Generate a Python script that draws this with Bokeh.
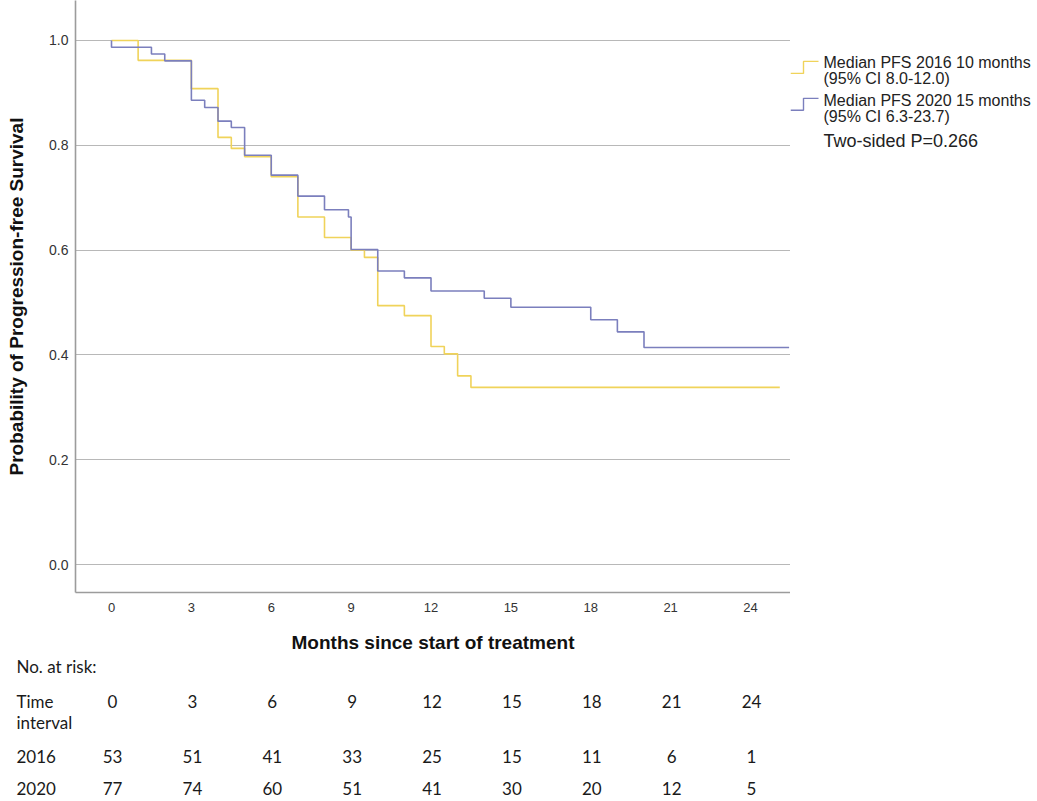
from bokeh.plotting import figure
from bokeh.layouts import row, column
from bokeh.models import Range1d, FixedTicker, ColumnDataSource
from bokeh.core.properties import value
from bokeh.embed import file_html
from bokeh.resources import INLINE

# ---- data ----
t2016 = [0, 1, 3, 4, 4.5, 5, 6, 7, 8, 9, 9.5, 10, 11, 12, 12.5, 13, 13.5, 25.1]
s2016 = [1.0, 0.962, 0.908, 0.815, 0.794, 0.778, 0.740, 0.663, 0.624, 0.600, 0.586,
         0.494, 0.475, 0.416, 0.402, 0.360, 0.338, 0.338]

t2020 = [0, 0, 1.5, 2, 3, 3.5, 4, 4.5, 5, 6, 7, 8, 8.9, 9, 10, 11, 12, 14, 15, 18, 19, 20, 25.45]
s2020 = [1.0, 0.987, 0.974, 0.961, 0.886, 0.872, 0.846, 0.834, 0.781, 0.743, 0.703, 0.677,
         0.663, 0.601, 0.560, 0.547, 0.522, 0.508, 0.491, 0.467, 0.444, 0.414, 0.414]

x_ticks = [0, 3, 6, 9, 12, 15, 18, 21, 24]
y_ticks = [0.0, 0.2, 0.4, 0.6, 0.8, 1.0]
y_tick_labels = ["0.0", "0.2", "0.4", "0.6", "0.8", "1.0"]

risk_times = [0, 3, 6, 9, 12, 15, 18, 21, 24]
risk_2016 = [53, 51, 41, 33, 25, 15, 11, 6, 1]
risk_2020 = [77, 74, 60, 51, 41, 30, 20, 12, 5]
row_names = ["2016", "2020"]

legend_lines_2016 = ["Median PFS 2016 10 months", "(95% CI 8.0-12.0)"]
legend_lines_2020 = ["Median PFS 2020 15 months", "(95% CI 6.3-23.7)"]
p_text = "Two-sided P=0.266"

YELLOW = "#f0d35a"
BLUE = "#7b7fbd"
FONT = "Liberation Sans"
TABLE_FONT = "Lato"

# page-pixel geometry of the main frame (months / probability scale)
def px_x(px):
    return (px - 111) / 26.625

def px_y(py):
    return (565 - py) / 525.0

FRAME_BOTTOM = 593
MAIN_W, MAIN_H = 790, 655
TOTAL_W, TOTAL_H = 1037, 801

# ---------------- main KM plot ----------------
p = figure(width=MAIN_W, height=MAIN_H,
           x_range=Range1d(px_x(75), px_x(790)),
           y_range=Range1d(px_y(FRAME_BOTTOM), px_y(0)),
           output_backend="svg", toolbar_location=None,
           min_border_left=75, min_border_right=0,
           min_border_top=0, min_border_bottom=MAIN_H - FRAME_BOTTOM)
p.outline_line_color = None
p.xgrid.visible = False
p.ygrid.ticker = FixedTicker(ticks=y_ticks)
p.ygrid.grid_line_color = "#b8b8b8"
p.ygrid.grid_line_width = 1.2

for ax in (p.xaxis, p.yaxis):
    ax.axis_line_color = "#9c9c9c"
    ax.axis_line_width = 1.6
    ax.major_tick_line_color = None
    ax.minor_tick_line_color = None
    ax.major_tick_out = 0
    ax.major_tick_in = 0
    ax.major_label_text_font = FONT
    ax.major_label_text_color = "#333333"
    ax.axis_label_text_font = FONT
    ax.axis_label_text_font_size = "19px"
    ax.axis_label_text_font_style = "bold"
    ax.axis_label_text_color = "#111111"

p.xaxis.ticker = FixedTicker(ticks=x_ticks)
p.xaxis.major_label_text_font_size = "13px"
p.xaxis.major_label_standoff = 10
p.xaxis.axis_label = "Months since start of treatment"
p.xaxis.axis_label_standoff = 17

p.yaxis.ticker = FixedTicker(ticks=y_ticks)
p.yaxis.major_label_text_font_size = "14px"
p.yaxis.major_label_overrides = {t: l for t, l in zip(y_ticks, y_tick_labels)}
p.yaxis.major_label_standoff = 7
p.yaxis.axis_label = "Probability of Progression-free Survival"
p.yaxis.axis_label_standoff = 19

p.step(t2016, s2016, mode="after", line_color=YELLOW, line_width=1.6)
p.step(t2020, s2020, mode="after", line_color=BLUE, line_width=1.6)

# ---------------- legend panel (right) ----------------
lg = figure(width=TOTAL_W - MAIN_W, height=MAIN_H,
            x_range=Range1d(MAIN_W, TOTAL_W), y_range=Range1d(FRAME_BOTTOM, 0),
            output_backend="svg", toolbar_location=None,
            min_border_left=0, min_border_right=0,
            min_border_top=0, min_border_bottom=MAIN_H - FRAME_BOTTOM)
lg.axis.visible = False
lg.grid.visible = False
lg.outline_line_color = None

def step_icon(low, color):
    lg.line([790, 803, 803, 818], [low, low, low - 12, low - 12],
            line_color=color, line_width=1.4)

step_icon(73, YELLOW)
step_icon(110, BLUE)

lg.text(x=[823] * 4, y=[62, 78, 100, 116],
        text=legend_lines_2016 + legend_lines_2020,
        text_font=value(FONT), text_font_size="16px", text_color="#222222",
        text_baseline="middle", text_align="left")
lg.text(x=[823], y=[141], text=[p_text],
        text_font=value(FONT), text_font_size="18px", text_color="#222222",
        text_baseline="middle", text_align="left")

# ---------------- number-at-risk table (bottom) ----------------
tb = figure(width=TOTAL_W, height=TOTAL_H - MAIN_H,
            x_range=Range1d(px_x(0), px_x(TOTAL_W)),
            y_range=Range1d(TOTAL_H, MAIN_H),
            output_backend="svg", toolbar_location=None,
            min_border_left=0, min_border_right=0,
            min_border_top=0, min_border_bottom=0)
tb.axis.visible = False
tb.grid.visible = False
tb.outline_line_color = None

ROW_Y = {"head": 666, "time": 701, "interval": 722, "2016": 756, "2020": 788}
left_x = px_x(16)
tb.text(x=[left_x] * 5,
        y=[ROW_Y["head"], ROW_Y["time"], ROW_Y["interval"], ROW_Y["2016"], ROW_Y["2020"]],
        text=["No. at risk:", "Time", "interval"] + row_names,
        text_font=value(TABLE_FONT), text_font_size="17px", text_color="#1a1a1a",
        text_baseline="middle", text_align="left")

src = ColumnDataSource(dict(
    x=risk_times * 3,
    y=[ROW_Y["time"]] * len(risk_times) + [ROW_Y["2016"]] * len(risk_times)
      + [ROW_Y["2020"]] * len(risk_times),
    text=[str(t) for t in risk_times] + [str(v) for v in risk_2016]
         + [str(v) for v in risk_2020],
))
tb.text(x="x", y="y", text="text", source=src, x_offset=1,
        text_font=value(TABLE_FONT), text_font_size="17px", text_color="#1a1a1a",
        text_baseline="middle", text_align="center")

layout = column(row(p, lg, spacing=0), tb, spacing=0)
open("out.html", "w").write(file_html(layout, INLINE))
